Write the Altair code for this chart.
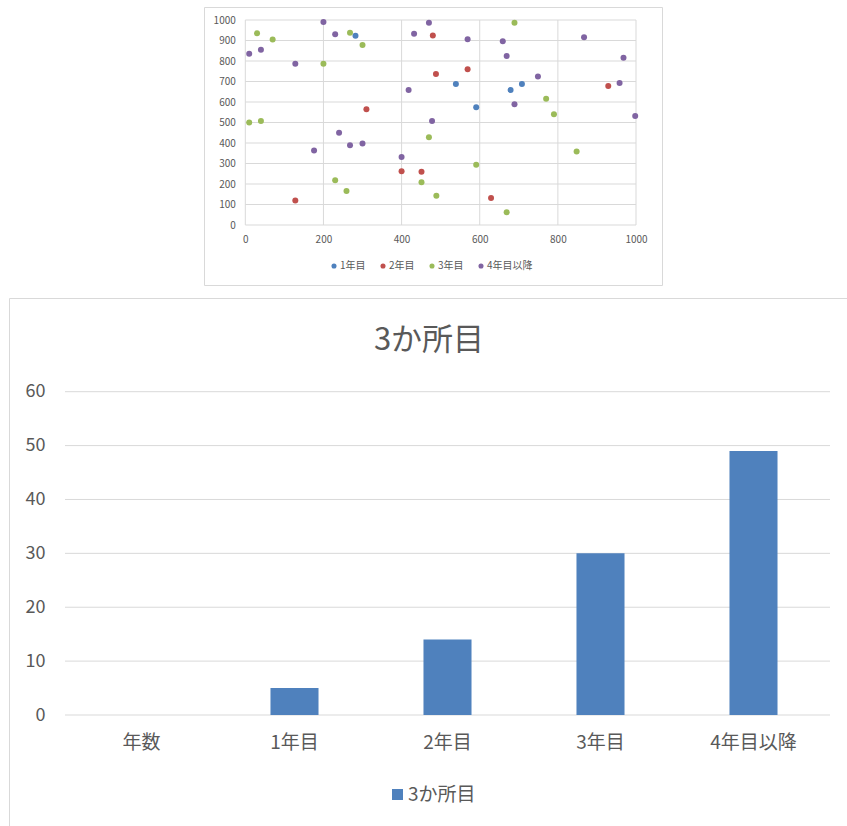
import altair as alt
import pandas as pd

FONT = "Noto Sans CJK JP"
GRAY = "#595959"
GRID = "#d9d9d9"

# ---------------- scatter data (top small chart) ----------------
series_names = ["1年目", "2年目", "3年目", "4年目以降"]
series_colors = ["#4F81BD", "#C0504D", "#9BBB59", "#8064A2"]

s1_x = [282, 539, 708, 679, 591]
s1_y = [923, 688, 688, 659, 574]
s2_x = [480, 488, 569, 310, 929, 400, 451, 128, 629]
s2_y = [925, 737, 760, 565, 678, 262, 260, 119, 132]
s3_x = [30, 70, 200, 268, 300, 10, 40, 470, 230, 259, 451, 489, 848, 591, 669, 689, 770, 790]
s3_y = [935, 905, 787, 938, 878, 500, 507, 428, 218, 166, 208, 143, 359, 294, 62, 987, 616, 540]
s4_x = [200, 10, 40, 128, 230, 240, 418, 432, 470, 478, 176, 268, 300, 400, 569, 659, 867,
        669, 968, 749, 958, 689, 998]
s4_y = [990, 835, 855, 787, 930, 450, 658, 933, 987, 507, 364, 389, 398, 332, 906, 896, 916,
        824, 816, 725, 693, 589, 532]

scatter_ticks_x = [0, 200, 400, 600, 800, 1000]
scatter_ticks_y = [0, 100, 200, 300, 400, 500, 600, 700, 800, 900, 1000]

# ---------------- bar data (bottom chart) ----------------
bar_title = "3か所目"
bar_categories = ["年数", "1年目", "2年目", "3年目", "4年目以降"]
bar_cats_with_bars = ["1年目", "2年目", "3年目", "4年目以降"]
bar_values = [5, 14, 30, 49]
bar_ticks = [0, 10, 20, 30, 40, 50, 60]

# ---------------- tables ----------------
rows = []
for name, xs, ys in zip(series_names, [s1_x, s2_x, s3_x, s4_x], [s1_y, s2_y, s3_y, s4_y]):
    for xv, yv in zip(xs, ys):
        rows.append({"x": xv, "y": yv, "s": name})
df_pts = pd.DataFrame(rows)
df_vx = pd.DataFrame({"v": scatter_ticks_x})
df_hy = pd.DataFrame({"v": scatter_ticks_y})
df_bar = pd.DataFrame({"cat": bar_cats_with_bars, "n": bar_values, "s": [bar_title] * 4})
df_bt = pd.DataFrame({"v": bar_ticks})
one = pd.DataFrame({"a": [0]})

W, H = 847, 826

# ---------------- scatter panel ----------------
SX0, SX1 = 245.3, 636.0
SY0, SY1 = 225.0, 20.0
sx_scale = alt.Scale(domain=[0, 1000], range=[SX0, SX1], nice=False, zero=False)
sy_scale = alt.Scale(domain=[0, 1000], range=[SY0, SY1], nice=False, zero=False)
sx_axis = alt.Axis(orient="bottom", offset=-(H - SY0), values=scatter_ticks_x, grid=False,
                   domain=False, ticks=False, tickSize=0, labelPadding=9, labelFontSize=10,
                   labelColor=GRAY, labelFont=FONT, labelFlush=False, labelOverlap=False,
                   format="d", title=None, zindex=1)
sy_axis = alt.Axis(orient="left", offset=-SX0, values=scatter_ticks_y, grid=False,
                   domain=False, ticks=False, tickSize=0, labelPadding=10, labelFontSize=10,
                   labelColor=GRAY, labelFont=FONT, labelFlush=False, labelOverlap=False,
                   format="d", title=None, zindex=1)

sbox = alt.Chart(one).mark_rect(fillOpacity=0, stroke=GRID, strokeWidth=1).encode(
    x=alt.value(204.5), x2=alt.value(662.5), y=alt.value(7.5), y2=alt.value(285.5))

vgrid = alt.Chart(df_vx).mark_rule(color=GRID, strokeWidth=1).encode(
    x=alt.X("v:Q", scale=sx_scale, axis=sx_axis),
    y=alt.value(SY1), y2=alt.value(SY0))

hgrid = alt.Chart(df_hy).mark_rule(color=GRID, strokeWidth=1).encode(
    y=alt.Y("v:Q", scale=sy_scale, axis=sy_axis),
    x=alt.value(SX0), x2=alt.value(SX1))

pts = alt.Chart(df_pts).mark_circle(size=36, opacity=1).encode(
    x=alt.X("x:Q", scale=sx_scale, axis=sx_axis),
    y=alt.Y("y:Q", scale=sy_scale, axis=sy_axis),
    color=alt.Color("s:N", scale=alt.Scale(domain=series_names, range=series_colors),
                    title=None,
                    legend=alt.Legend(orient="none", legendX=329, legendY=261,
                                      direction="horizontal", symbolType="circle",
                                      symbolSize=26, labelFontSize=10, labelColor=GRAY,
                                      labelFont=FONT, labelOffset=1, columnPadding=12,
                                      padding=0)))

scatter = alt.layer(sbox, vgrid, hgrid, pts)

# ---------------- bar panel ----------------
BX0, BX1 = 65.0, 830.0
BY0, BY1 = 715.0, 391.7
bx_scale = alt.Scale(domain=bar_categories, range=[BX0, BX1], paddingInner=0.686,
                     paddingOuter=0.343)
by_scale = alt.Scale(domain=[0, 60], range=[BY0, BY1], nice=False)
bx_axis = alt.Axis(orient="bottom", offset=-(H - BY0), grid=False, domain=False, ticks=False,
                   tickSize=0, labelPadding=18, labelFontSize=19, labelColor=GRAY,
                   labelFont=FONT, labelAngle=0, title=None, zindex=1)
by_axis = alt.Axis(orient="left", offset=-BX0, values=bar_ticks, grid=False, domain=False,
                   ticks=False, tickSize=0, labelPadding=20, labelFontSize=18,
                   labelColor=GRAY, labelFont=FONT, labelFlush=False, labelOverlap=False,
                   title=None, zindex=1)

bbox = alt.Chart(one).mark_rect(fillOpacity=0, stroke=GRID, strokeWidth=1).encode(
    x=alt.value(9.5), x2=alt.value(900), y=alt.value(298.5), y2=alt.value(900))

bgrid = alt.Chart(df_bt).mark_rule(color=GRID, strokeWidth=1).encode(
    y=alt.Y("v:Q", scale=by_scale, axis=by_axis),
    x=alt.value(BX0), x2=alt.value(BX1))

bars = alt.Chart(df_bar).mark_bar().encode(
    x=alt.X("cat:N", scale=bx_scale, axis=bx_axis),
    y=alt.Y("n:Q", scale=by_scale, axis=by_axis),
    color=alt.Color("s:N", scale=alt.Scale(domain=[bar_title], range=["#4F81BD"]),
                    title=None,
                    legend=alt.Legend(orient="none", legendX=388, legendY=785,
                                      symbolType="square", symbolSize=121,
                                      labelFontSize=19, labelColor=GRAY, labelFont=FONT,
                                      labelOffset=1, padding=0)))

btitle = alt.Chart(one).mark_text(text=bar_title, font=FONT, fontSize=31, color=GRAY,
                                  align="center", baseline="middle").encode(
    x=alt.value(429), y=alt.value(341))

bar_chart = alt.layer(bbox, bgrid, bars, btitle)

chart = alt.layer(bar_chart, scatter).resolve_scale(
    x="independent", y="independent", color="independent"
).properties(
    width=W, height=H, padding=0, background="white",
    autosize=alt.AutoSizeParams(type="none")
).configure_view(stroke=None)

chart.save("out.html", embed_options={"renderer": "svg", "actions": False})
